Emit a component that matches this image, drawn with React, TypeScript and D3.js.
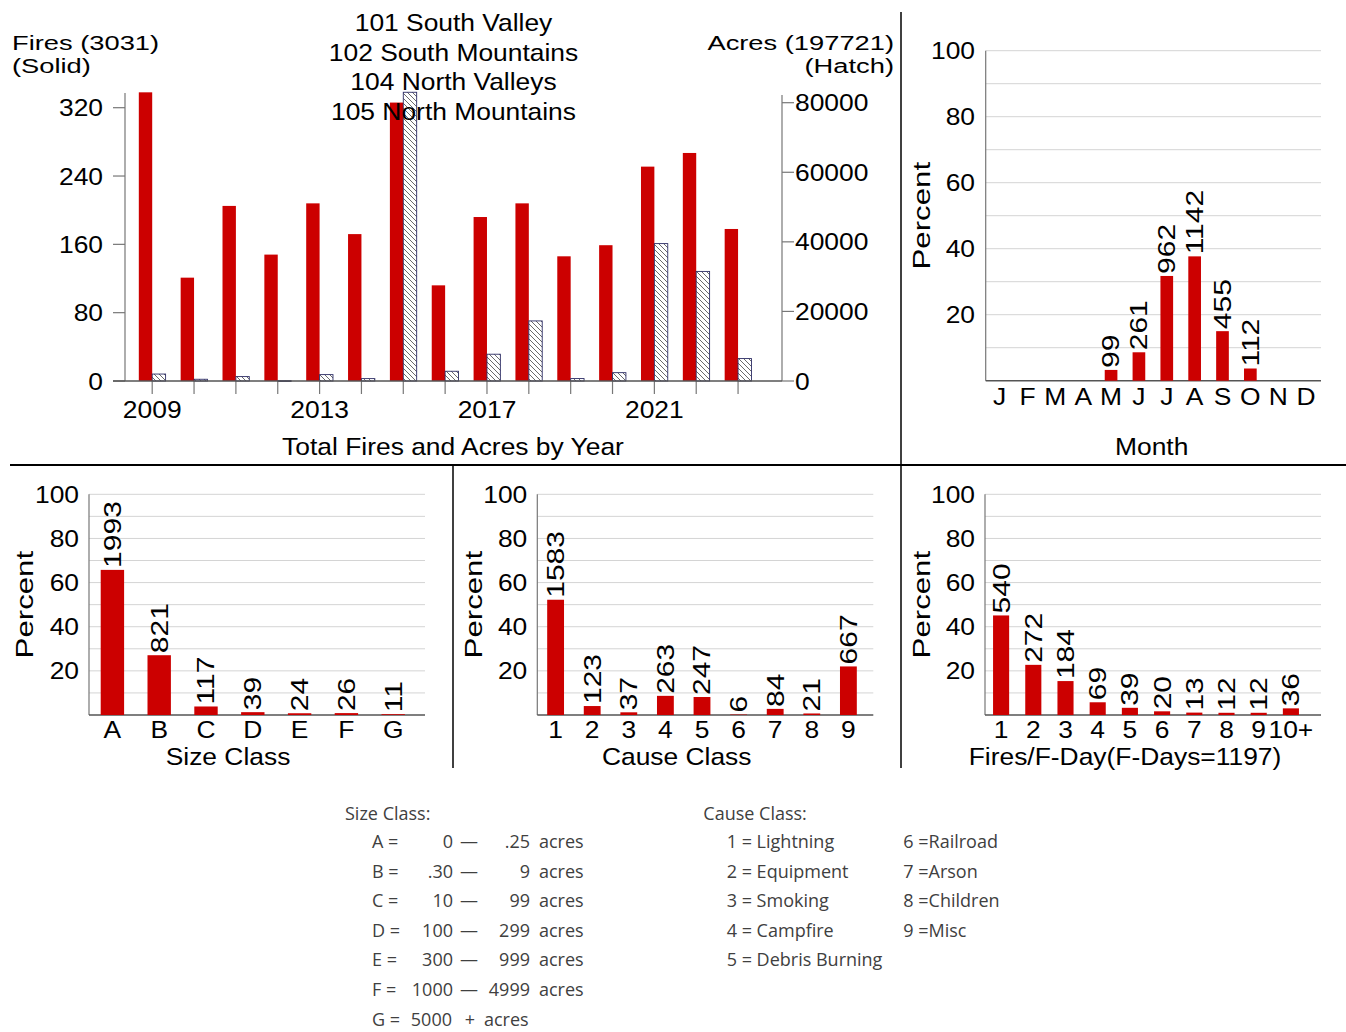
import React from "react";
import * as d3 from "d3";

// ---------- DATA ----------
const years = [2009, 2010, 2011, 2012, 2013, 2014, 2015, 2016, 2017, 2018, 2019, 2020, 2021, 2022, 2023];
const firesByYear = [338, 121, 205, 148, 208, 172, 326, 112, 192, 208, 146, 159, 251, 267, 178];
const acresByYear = [2000, 500, 1270, 101, 1840, 690, 83000, 2800, 7700, 17270, 700, 2400, 39500, 31500, 6450];
const yearLabels = [2009, 2013, 2017, 2021];
const fireTicks = [0, 80, 160, 240, 320];
const acreTicks = [0, 20000, 40000, 60000, 80000];
const districts = ["101 South Valley", "102 South Mountains", "104 North Valleys", "105 North Mountains"];

const months = ["J", "F", "M", "A", "M", "J", "J", "A", "S", "O", "N", "D"];
const monthFires = [0, 0, 0, 0, 99, 261, 962, 1142, 455, 112, 0, 0];

const sizeClasses = ["A", "B", "C", "D", "E", "F", "G"];
const sizeFires = [1993, 821, 117, 39, 24, 26, 11];

const causeClasses = ["1", "2", "3", "4", "5", "6", "7", "8", "9"];
const causeFires = [1583, 123, 37, 263, 247, 6, 84, 21, 667];

const fdayClasses = ["1", "2", "3", "4", "5", "6", "7", "8", "9", "10+"];
const fdayCounts = [540, 272, 184, 69, 39, 20, 13, 12, 12, 36];

const pctTicks = [20, 40, 60, 80, 100];
const pctGrid = [10, 20, 30, 40, 50, 60, 70, 80, 90, 100];

const sizeLegend = [
  ["A =", "0", ".25"],
  ["B =", ".30", "9"],
  ["C =", "10", "99"],
  ["D =", "100", "299"],
  ["E =", "300", "999"],
  ["F =", "1000", "4999"],
];
const sizeLegendLast = ["G =", "5000"];
const causeLegendLeft = ["1 = Lightning", "2 = Equipment", "3 = Smoking", "4 = Campfire", "5 = Debris Burning"];
const causeLegendRight = ["6 =Railroad", "7 =Arson", "8 =Children", "9 =Misc"];

// ---------- STYLE ----------
const RED = "#CC0000";
const FONT = "'Liberation Sans', Arial, sans-serif";
const LFONT = "'Liberation Sans Narrow', 'Arial Narrow', 'Open Sans', sans-serif";
const AXIS = "#777";
const GRID = "#d4d4d4";
const FS = 24;
const SX = 1.1;

function T({ x, y, anchor = "start", size = FS, sx = SX, children, color = "#000" }: any) {
  return (
    <text
      transform={`translate(${x},${y}) scale(${sx},1)`}
      textAnchor={anchor}
      fontSize={size}
      fontFamily={FONT}
      fill={color}
    >
      {children}
    </text>
  );
}

function RT({ x, y, anchor = "start", size = FS, sx = 1.25, dy = "0.35em", children }: any) {
  return (
    <text
      transform={`translate(${x},${y}) rotate(-90) scale(${sx},1)`}
      textAnchor={anchor}
      dy={dy}
      fontSize={size}
      fontFamily={FONT}
      fill="#000"
    >
      {children}
    </text>
  );
}

function PercentChart({ cats, counts, total, x0, x1, gridEnd, y0, y1, barFrac, tickRight, percentX, title, titleX, titleY, catY }: any) {
  const n = cats.length;
  const x = d3
    .scaleBand<number>()
    .domain(d3.range(n))
    .range([x0, x1])
    .paddingInner(1 - barFrac)
    .paddingOuter((1 - barFrac) / 2);
  const y = d3.scaleLinear().domain([0, 100]).range([y0, y1]);
  const pct = (c: number) => (c / total) * 100;
  return (
    <g>
      {pctGrid.map((g) => (
        <line key={g} x1={x0} x2={gridEnd} y1={y(g)} y2={y(g)} stroke={GRID} strokeWidth={1} />
      ))}
      <line x1={x0} x2={x0} y1={y(0)} y2={y(100)} stroke={AXIS} strokeWidth={1.2} />
      <line x1={x0} x2={gridEnd} y1={y(0)} y2={y(0)} stroke="#555" strokeWidth={1.5} />
      {pctTicks.map((t) => (
        <T key={t} x={tickRight} y={y(t) + 8.5} anchor="end">
          {t}
        </T>
      ))}
      <RT x={percentX} y={(y(0) + y(100)) / 2} anchor="middle" sx={1.3}>
        Percent
      </RT>
      {counts.map((c: number, i: number) => (
        <rect key={i} x={x(i)} width={x.bandwidth()} y={y(pct(c))} height={y(0) - y(pct(c))} fill={RED} />
      ))}
      {counts.map((c: number, i: number) =>
        c > 0 ? (
          <RT key={i} x={(x(i) as number) + x.bandwidth() / 2} y={y(pct(c)) - 2}>
            {c}
          </RT>
        ) : null
      )}
      {cats.map((c: string, i: number) => (
        <T key={i} x={(x(i) as number) + x.bandwidth() / 2} y={catY} anchor="middle">
          {c}
        </T>
      ))}
      <T x={titleX} y={titleY} anchor="middle">
        {title}
      </T>
    </g>
  );
}

export default function App() {
  // Year chart scales
  const xYear = d3.scaleLinear().domain([2008.35, 2024.05]).range([125, 782]);
  const step = xYear(2010) - xYear(2009);
  const bw = step * 0.32;
  const yFires = d3.scaleLinear().domain([0, 320]).range([381, 107.7]);
  const yAcres = d3.scaleLinear().domain([0, 80000]).range([381, 102.7]);

  const monthTotal = d3.sum(monthFires);
  const sizeTotal = d3.sum(sizeFires);
  const causeTotal = d3.sum(causeFires);
  const fdayTotal = d3.sum(fdayCounts);

  const legendRowY = (i: number) => 848 + i * 29.6;

  return (
    <svg
      width={1346}
      height={1032}
      style={{ position: "absolute", left: 0, top: 0, background: "#fff" }}
      xmlns="http://www.w3.org/2000/svg"
    >
      <defs>
        <pattern id="hatch" patternUnits="userSpaceOnUse" width={5} height={5}>
          <rect width={5} height={5} fill="#fff" />
          <path d="M0,0 L5,5 M-1,4 L1,6 M4,-1 L6,1" stroke="#444" strokeWidth={0.8} />
        </pattern>
      </defs>
      <rect width={1346} height={1032} fill="#fff" />

      {/* ---------- Year chart ---------- */}
      <line x1={125} x2={125} y1={93} y2={381} stroke={AXIS} strokeWidth={1.2} />
      <line x1={782} x2={782} y1={95} y2={381} stroke={AXIS} strokeWidth={1.2} />
      {fireTicks.map((t) => (
        <g key={t}>
          <line x1={113} x2={125} y1={yFires(t)} y2={yFires(t)} stroke={AXIS} strokeWidth={1.2} />
          <T x={103} y={yFires(t) + 8.5} anchor="end">
            {t}
          </T>
        </g>
      ))}
      {acreTicks.map((t) => (
        <g key={t}>
          <line x1={782} x2={794} y1={yAcres(t)} y2={yAcres(t)} stroke={AXIS} strokeWidth={1.2} />
          <T x={795} y={yAcres(t) + 8.5} anchor="start">
            {t}
          </T>
        </g>
      ))}
      {years.map((yr, i) => (
        <g key={yr}>
          <rect x={xYear(yr) - bw} width={bw} y={yFires(firesByYear[i])} height={yFires(0) - yFires(firesByYear[i])} fill={RED} />
          <rect
            x={xYear(yr)}
            width={bw}
            y={yAcres(acresByYear[i])}
            height={Math.max(0.8, yAcres(0) - yAcres(acresByYear[i]))}
            fill="url(#hatch)"
            stroke="#2e2e66"
            strokeWidth={0.9}
          />
          <line x1={xYear(yr)} x2={xYear(yr)} y1={381} y2={394} stroke={AXIS} strokeWidth={1.2} />
        </g>
      ))}
      <line x1={113} x2={782} y1={381} y2={381} stroke="#555" strokeWidth={1.5} />
      {yearLabels.map((yr) => (
        <T key={yr} x={xYear(yr)} y={418} anchor="middle">
          {yr}
        </T>
      ))}
      <T x={453} y={455} anchor="middle">
        Total Fires and Acres by Year
      </T>
      <T x={12} y={49.5} anchor="start" size={21} sx={1.3}>
        Fires (3031)
      </T>
      <T x={12} y={72.5} anchor="start" size={21} sx={1.3}>
        (Solid)
      </T>
      <T x={894} y={49.5} anchor="end" size={21} sx={1.3}>
        Acres (197721)
      </T>
      <T x={894} y={72.5} anchor="end" size={21} sx={1.3}>
        (Hatch)
      </T>
      {districts.map((d, i) => (
        <T key={d} x={453.5} y={31 + i * 29.5} anchor="middle">
          {d}
        </T>
      ))}

      {/* ---------- Month chart ---------- */}
      <PercentChart
        cats={months}
        counts={monthFires}
        total={monthTotal}
        x0={985.7}
        x1={1320}
        gridEnd={1321}
        y0={380.7}
        y1={50.7}
        barFrac={0.455}
        tickRight={975}
        percentX={921.7}
        title="Month"
        titleX={1151.7}
        titleY={455}
        catY={405}
      />

      {/* ---------- Size class ---------- */}
      <PercentChart
        cats={sizeClasses}
        counts={sizeFires}
        total={sizeTotal}
        x0={89}
        x1={89 + 7 * 46.8}
        gridEnd={425}
        y0={715}
        y1={494.3}
        barFrac={0.5}
        tickRight={79}
        percentX={25}
        title="Size Class"
        titleX={228}
        titleY={764.5}
        catY={738}
      />

      {/* ---------- Cause class ---------- */}
      <PercentChart
        cats={causeClasses}
        counts={causeFires}
        total={causeTotal}
        x0={537.3}
        x1={537.3 + 9 * 36.6}
        gridEnd={873.3}
        y0={715}
        y1={494.3}
        barFrac={0.46}
        tickRight={527.3}
        percentX={473.3}
        title="Cause Class"
        titleX={676.7}
        titleY={764.5}
        catY={738}
      />

      {/* ---------- Fires per F-day ---------- */}
      <PercentChart
        cats={fdayClasses}
        counts={fdayCounts}
        total={fdayTotal}
        x0={985}
        x1={985 + 10 * 32.2}
        gridEnd={1321}
        y0={715}
        y1={494.3}
        barFrac={0.5}
        tickRight={975}
        percentX={921.7}
        title="Fires/F-Day(F-Days=1197)"
        titleX={1125}
        titleY={764.5}
        catY={738}
      />

      {/* ---------- Dividers ---------- */}
      <line x1={10} x2={1346} y1={465} y2={465} stroke="#000" strokeWidth={2} />
      <line x1={901} x2={901} y1={12} y2={768} stroke="#000" strokeWidth={1.5} />
      <line x1={453} x2={453} y1={465} y2={768} stroke="#000" strokeWidth={1.5} />

      {/* ---------- Legends ---------- */}
      <g fontFamily={LFONT} fontSize={18} fill="#404040">
        <text x={345} y={820}>Size Class:</text>
        {sizeLegend.map((r, i) => (
          <g key={r[0]}>
            <text x={372} y={legendRowY(i)}>{r[0]}</text>
            <text x={453} y={legendRowY(i)} textAnchor="end">{r[1]}</text>
            <text x={460} y={legendRowY(i)}>—</text>
            <text x={530} y={legendRowY(i)} textAnchor="end">{r[2]}</text>
            <text x={539} y={legendRowY(i)}>acres</text>
          </g>
        ))}
        <text x={372} y={legendRowY(6)}>{sizeLegendLast[0]}</text>
        <text x={452} y={legendRowY(6)} textAnchor="end">{sizeLegendLast[1]}</text>
        <text x={470} y={legendRowY(6)} textAnchor="middle">+</text>
        <text x={484} y={legendRowY(6)}>acres</text>

        <text x={703.3} y={820}>Cause Class:</text>
        {causeLegendLeft.map((s, i) => (
          <text key={s} x={726.7} y={legendRowY(i)}>{s}</text>
        ))}
        {causeLegendRight.map((s, i) => (
          <text key={s} x={903.3} y={legendRowY(i)}>{s}</text>
        ))}
      </g>
    </svg>
  );
}
